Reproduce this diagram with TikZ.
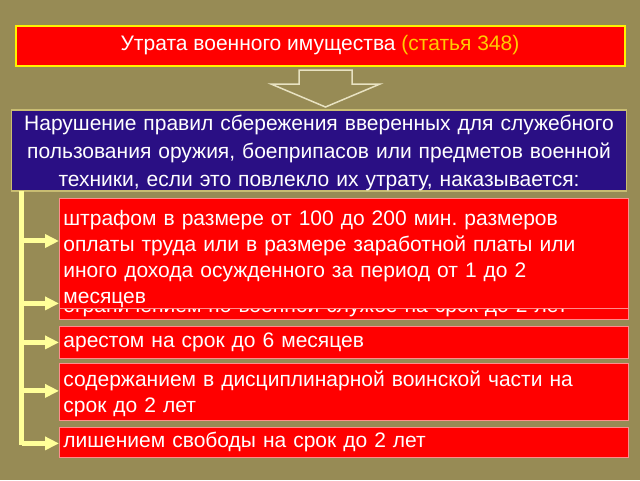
\documentclass[tikz,border=0pt]{standalone}
\usepackage{fontspec}
\setmainfont{Liberation Sans}
\usepackage{tikz}
\usetikzlibrary{positioning, arrows.meta}
\frenchspacing

\definecolor{olivebg}{HTML}{978B55}
\definecolor{boxred}{HTML}{FF0000}
\definecolor{titleyellow}{HTML}{FFCC00}
\definecolor{normblue}{HTML}{2A0F84}
\definecolor{normframe}{HTML}{C8BC72}
\definecolor{penframe}{HTML}{FF8C8C}
\definecolor{spineyellow}{HTML}{FFFF99}
\definecolor{arrowgrey}{HTML}{E8E2C2}

\begin{document}
\begin{tikzpicture}[x=1pt, y=-1pt,
    titlebox/.style={rectangle, draw=yellow, line width=2pt, fill=boxred, text=white,
      minimum width=609pt, minimum height=40pt, font=\fontsize{21}{25}\selectfont},
    normbox/.style={rectangle, draw=normframe, line width=1.2pt, fill=normblue, text=white,
      minimum width=615pt, minimum height=81pt, text width=607pt, align=center,
      inner sep=0pt, font=\fontsize{21}{28}\selectfont},
    penbox/.style={rectangle, draw=penframe, line width=0.8pt, fill=boxred, text=white,
      anchor=north west, minimum width=569pt, text width=561pt, align=left,
      inner xsep=4pt, inner ysep=1pt, font=\fontsize{21}{26}\selectfont},
    spine/.style={spineyellow, line width=5pt},
    branch/.style={spineyellow, line width=5pt, -{Triangle[length=14pt,width=13pt]}}]

  \useasboundingbox[fill=olivebg] (0,0) rectangle (640,480);

  % Titolo
  \node[titlebox] (title) at (320,45.5) {Утрата военного имущества \textcolor{titleyellow}{(статья 348)}};

  % Freccia verso il basso
  \draw[arrowgrey, line width=1.5pt, line join=miter]
    (299,70) -- (352,70) -- (352,84) -- (380,84) -- (325.5,107)
    -- (271,84) -- (299,84) -- cycle;

  % Norma
  \node[normbox] (norm) at (319,150.5) {\rule{0pt}{20pt}Нарушение правил сбережения вверенных для служебного\\
    пользования оружия, боеприпасов или предметов военной\\
    техники, если это повлекло их утрату, наказывается:};

  % Pene
  \node[penbox, minimum height=29pt, text depth=0pt] (limit) at (59,290) {ограничением по военной службе на срок до 2 лет};
  \node[penbox, minimum height=109pt] (fine) at (59,198) {\rule{0pt}{26pt}штрафом в размере от 100 до 200 мин. размеров\\
    оплаты труда или в размере заработной платы или\\
    иного дохода осужденного за период от 1 до 2\\
    месяцев};
  \node[penbox, minimum height=32pt] (arrest) at (59,326) {арестом на срок до 6 месяцев};
  \node[penbox, minimum height=57pt] (unit) at (59,363) {\rule{0pt}{19pt}содержанием в дисциплинарной воинской части на\\
    срок до 2 лет};
  \node[penbox, minimum height=30pt] (prison) at (59,427) {лишением свободы на срок до 2 лет};

  % Collegamenti
  \coordinate (spinetop) at (21.5,191);
  \coordinate (spinebot) at (21.5,445);
  \draw[spine] (spinetop) -- (spinebot);

  \draw[branch] ([yshift=12.5pt]fine.west -| spinetop) -- ([yshift=12.5pt]fine.west);
  \draw[branch] ([yshift=1.5pt]limit.west -| spinetop) -- ([yshift=1.5pt]limit.west);
  \draw[branch] (arrest.west -| spinetop) -- (arrest.west);
  \draw[branch] ([yshift=1pt]unit.west -| spinetop) -- ([yshift=1pt]unit.west);
  \draw[branch] ([yshift=-1pt]prison.west -| spinetop) -- ([yshift=-1pt]prison.west);
\end{tikzpicture}
\end{document}
